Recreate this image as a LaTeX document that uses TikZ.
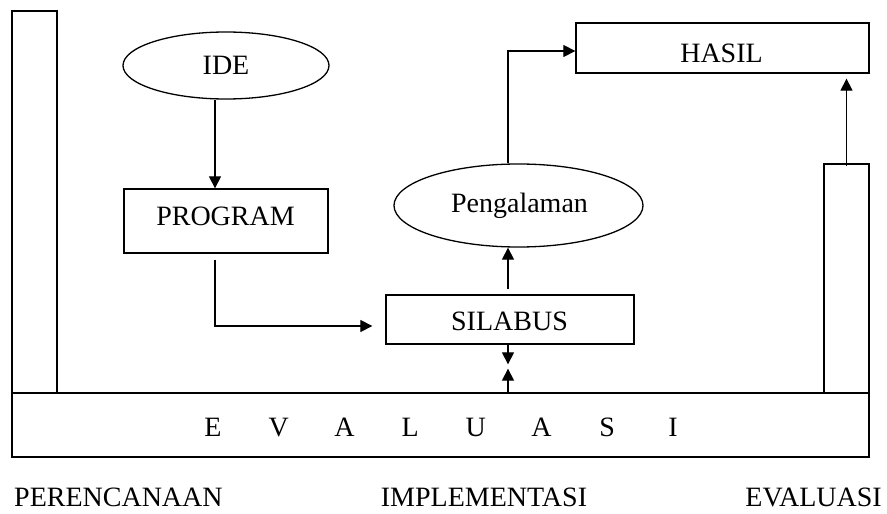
\documentclass[tikz,border=0pt]{standalone}
\usepackage{fontspec}
\setmainfont{Liberation Serif}
\usetikzlibrary{shapes.geometric,arrows.meta}
\begin{document}
\begin{tikzpicture}[x=1pt,y=-1pt,
  shapebox/.style={draw, line width=1.3pt, rectangle, inner sep=0pt},
  oval/.style={draw, line width=1.3pt, ellipse, inner sep=0pt},
  lbl/.style={inner sep=0pt, font=\fontsize{28pt}{32pt}\selectfont},
  arr/.style={line width=1.2pt, -{Triangle[length=12pt,width=12pt]}},
  ln/.style={line width=1.2pt}]
\useasboundingbox (0,0) rectangle (887,514);
% shapes
\node[shapebox, minimum width=45pt, minimum height=382pt] (lbar) at (34.5,202) {};
\node[shapebox, minimum width=45pt, minimum height=229pt] (rbar) at (846.5,278.5) {};
\node[shapebox, minimum width=857pt, minimum height=64pt] (evalbox) at (440.5,425) {};
\node[shapebox, minimum width=293pt, minimum height=50pt] (hasil) at (722.5,48) {};
\node[shapebox, minimum width=204pt, minimum height=64pt] (program) at (226,221) {};
\node[shapebox, minimum width=248pt, minimum height=49pt] (silabus) at (510,319.5) {};
\node[oval, minimum width=206pt, minimum height=67pt] (ide) at (226,65.5) {};
\node[oval, minimum width=249pt, minimum height=83pt] (peng) at (518.5,205.5) {};
% texts
\node[lbl, anchor=base] (ideT) at (226,74) {IDE};
\node[lbl, anchor=base] (programT) at (225.5,225) {PROGRAM};
\node[lbl, anchor=base] (silabusT) at (509.5,330) {SILABUS};
\node[lbl, anchor=base] (pengT) at (519.5,212.5) {Pengalaman};
\node[lbl, anchor=base] (hasilT) at (721.5,62) {HASIL};
\node[lbl, anchor=base] (evalT) at (443,436) {\makebox[65.7pt]{E}\makebox[65.7pt]{V}\makebox[65.7pt]{A}\makebox[65.7pt]{L}\makebox[65.7pt]{U}\makebox[65.7pt]{A}\makebox[65.7pt]{S}\makebox[65.7pt]{I}};
\node[lbl, anchor=base west] (perT) at (14,506) {PERENCANAAN};
\node[lbl, anchor=base] (impT) at (484,506) {IMPLEMENTASI};
\node[lbl, anchor=base east] (evT) at (882,506) {EVALUASI};
% connectors
\draw[arr] ([xshift=-11pt]ide.south) -- ([xshift=-11pt]ide.south |- program.north);
\draw[arr, shorten <=6pt, shorten >=13pt] ([xshift=-11pt]program.south) |- ([yshift=-6.5pt]silabus.west);
\draw[arr, shorten <=5pt] ([xshift=-2pt]silabus.north) -- ([xshift=-2pt]silabus.north |- peng.south);
\draw[arr] ([xshift=-10.5pt]peng.north) |- ([yshift=-3pt]hasil.west);
\draw[arr, shorten <=-3pt, shorten >=5pt] (rbar.north) -- (rbar.north |- hasil.south);
\draw[arr, shorten >=28pt] ([xshift=-2pt]silabus.south) -- ([xshift=-2pt]silabus.south |- evalbox.north);
\draw[arr, shorten >=24pt] ([xshift=-2pt]silabus.south |- evalbox.north) -- ([xshift=-2pt]silabus.south);
\end{tikzpicture}
\end{document}
